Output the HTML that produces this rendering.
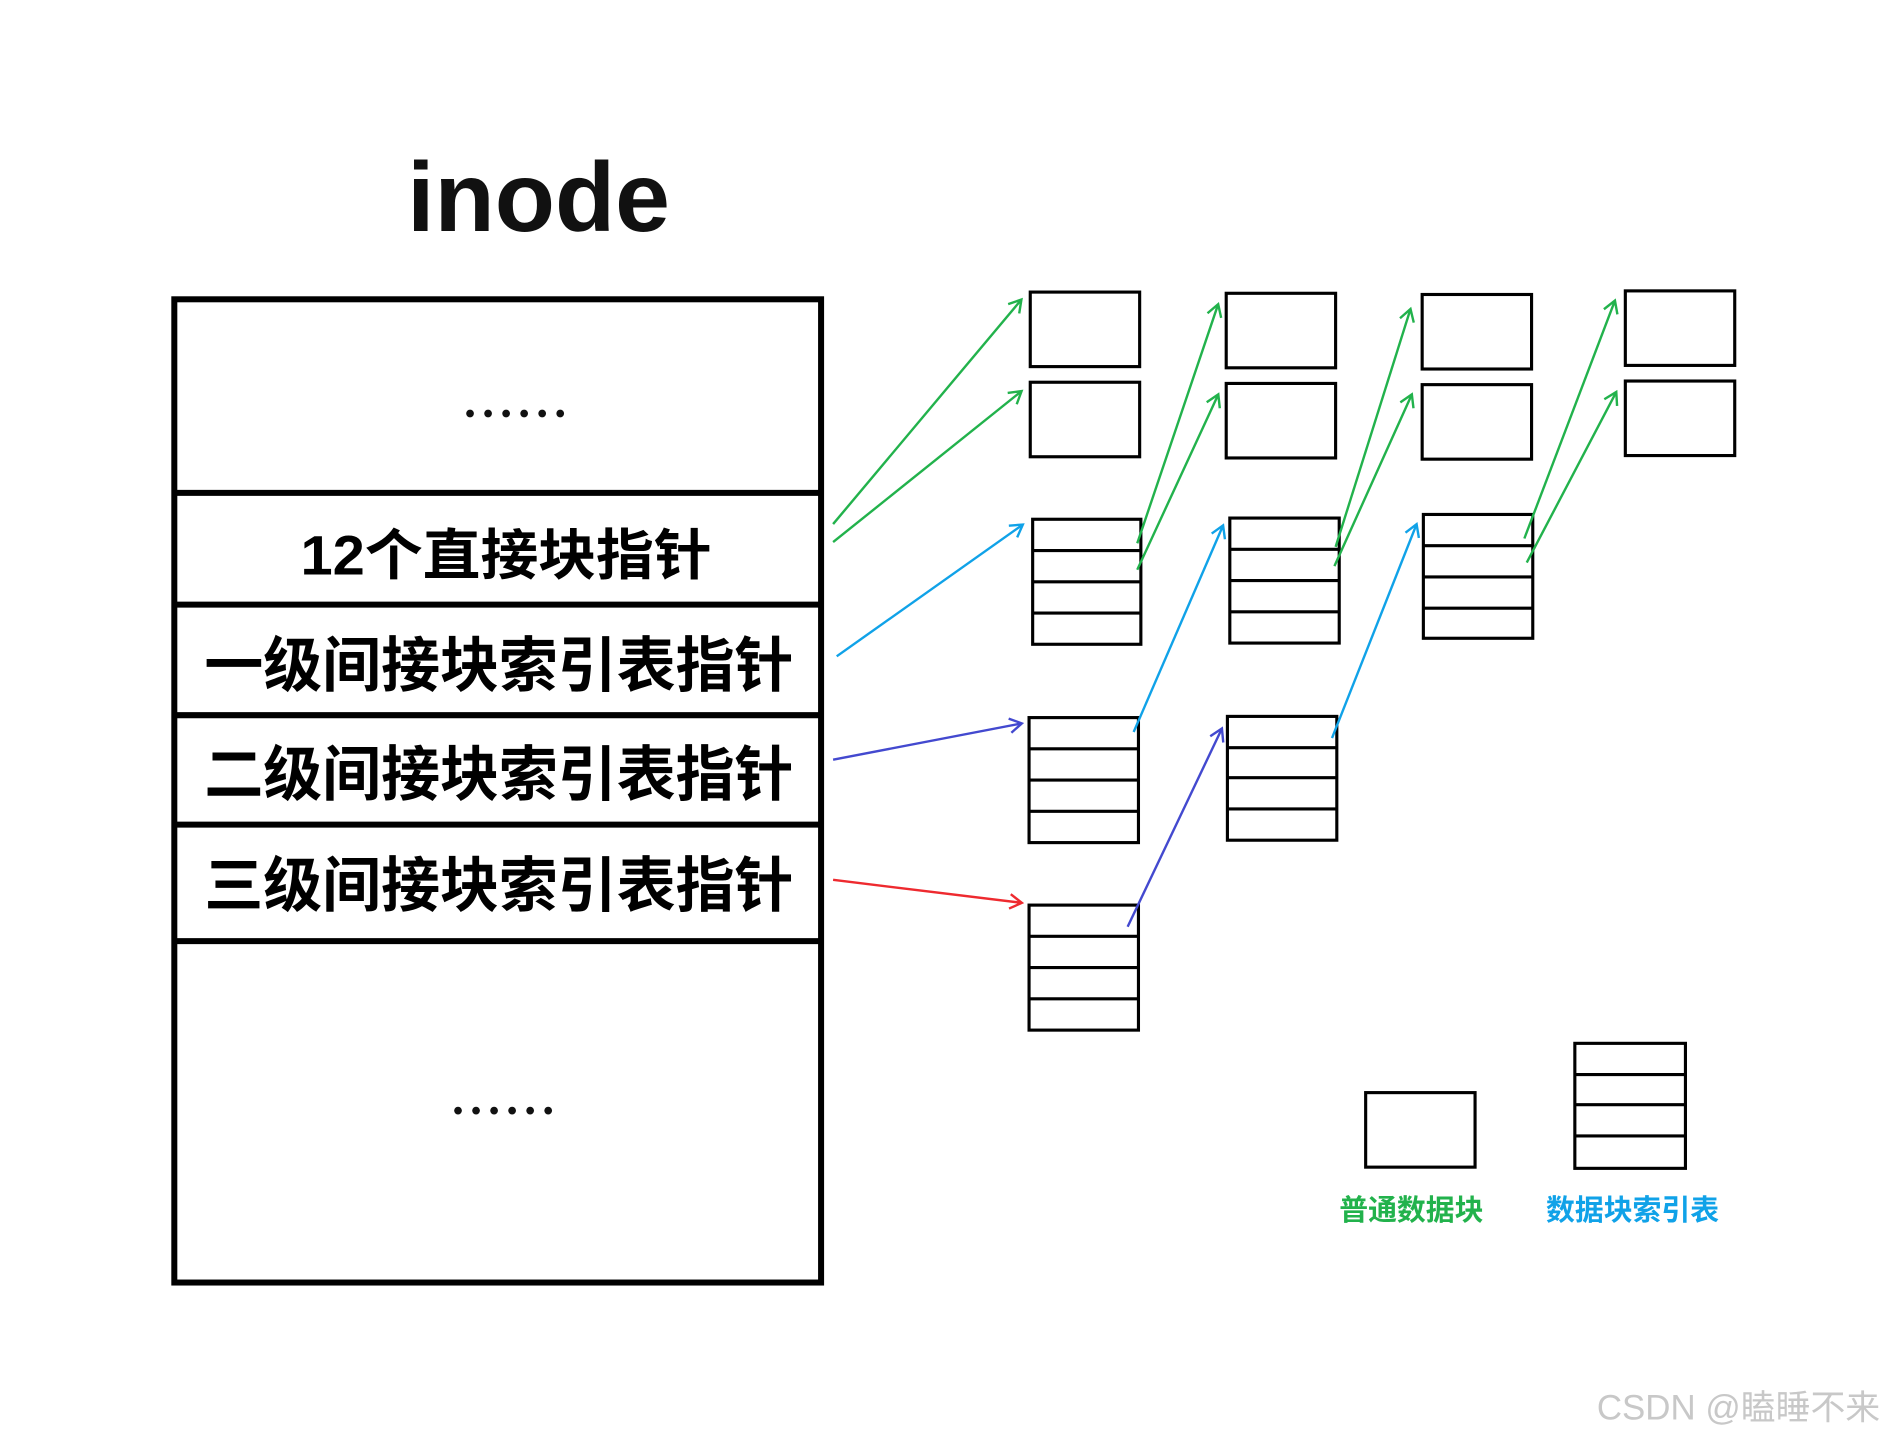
<!DOCTYPE html>
<html><head><meta charset="utf-8"><style>
html,body{margin:0;padding:0;background:#fff;}
svg{display:block;}
text{font-family:"Liberation Sans","Noto Sans CJK SC",sans-serif;}
</style></head><body>
<svg width="1885" height="1440" viewBox="0 0 1568 1198" preserveAspectRatio="none" xmlns="http://www.w3.org/2000/svg">
<defs>
<marker id="g" markerWidth="14" markerHeight="14" refX="10" refY="7" orient="auto" markerUnits="userSpaceOnUse"><path d="M1,1 L11,7 L1,13" fill="none" stroke="#22b24c" stroke-width="2"/></marker>
<marker id="b" markerWidth="14" markerHeight="14" refX="10" refY="7" orient="auto" markerUnits="userSpaceOnUse"><path d="M1,1 L11,7 L1,13" fill="none" stroke="#10a2e8" stroke-width="2"/></marker>
<marker id="p" markerWidth="14" markerHeight="14" refX="10" refY="7" orient="auto" markerUnits="userSpaceOnUse"><path d="M1,1 L11,7 L1,13" fill="none" stroke="#4349cf" stroke-width="2"/></marker>
<marker id="r" markerWidth="14" markerHeight="14" refX="10" refY="7" orient="auto" markerUnits="userSpaceOnUse"><path d="M1,1 L11,7 L1,13" fill="none" stroke="#ee2a2f" stroke-width="2"/></marker>
</defs>
<rect width="1568" height="1198" fill="#fff"/>
<text x="448" y="192" font-size="82" text-anchor="middle" fill="#111" font-weight="bold">inode</text>
<!-- main box -->
<rect x="145" y="249" width="538" height="818" fill="none" stroke="#000" stroke-width="5"/>
<g stroke="#000" stroke-width="5">
<line x1="145" y1="410" x2="683" y2="410"/>
<line x1="145" y1="503" x2="683" y2="503"/>
<line x1="145" y1="595" x2="683" y2="595"/>
<line x1="145" y1="686" x2="683" y2="686"/>
<line x1="145" y1="783" x2="683" y2="783"/>
</g>
<g fill="#111">
<circle cx="391" cy="344" r="3.2"/><circle cx="406" cy="344" r="3.2"/><circle cx="421" cy="344" r="3.2"/><circle cx="436" cy="344" r="3.2"/><circle cx="451" cy="344" r="3.2"/><circle cx="466" cy="344" r="3.2"/>
<circle cx="381" cy="924" r="3.2"/><circle cx="396" cy="924" r="3.2"/><circle cx="411" cy="924" r="3.2"/><circle cx="426" cy="924" r="3.2"/><circle cx="441" cy="924" r="3.2"/><circle cx="456" cy="924" r="3.2"/>
</g>
<g font-weight="bold" fill="#000">
<text x="250" y="478" font-size="46" textLength="342" lengthAdjust="spacingAndGlyphs">12个直接块指针</text>
<text x="170" y="571" font-size="50" textLength="490" lengthAdjust="spacingAndGlyphs">一级间接块索引表指针</text>
<text x="170" y="662" font-size="50" textLength="490" lengthAdjust="spacingAndGlyphs">二级间接块索引表指针</text>
<text x="170" y="754" font-size="50" textLength="490" lengthAdjust="spacingAndGlyphs">三级间接块索引表指针</text>
</g>
<!-- data blocks -->
<g fill="none" stroke="#000" stroke-width="2.6">
<rect x="857" y="243" width="91" height="62"/><rect x="857" y="318" width="91" height="62"/>
<rect x="1020" y="244" width="91" height="62"/><rect x="1020" y="319" width="91" height="62"/>
<rect x="1183" y="245" width="91" height="62"/><rect x="1183" y="320" width="91" height="62"/>
<rect x="1352" y="242" width="91" height="62"/><rect x="1352" y="317" width="91" height="62"/>
<rect x="1136" y="909" width="91" height="62"/>
</g>
<!-- index tables -->
<g fill="none" stroke="#000" stroke-width="2.6">
<rect x="859" y="432" width="90" height="104"/><path d="M859 458H949M859 484H949M859 510H949"/>
<rect x="1023" y="431" width="91" height="104"/><path d="M1023 457H1114M1023 483H1114M1023 509H1114"/>
<rect x="1184" y="428" width="91" height="103"/><path d="M1184 454H1275M1184 480H1275M1184 506H1275"/>
<rect x="856" y="597" width="91" height="104"/><path d="M856 623H947M856 649H947M856 675H947"/>
<rect x="1021" y="596" width="91" height="103"/><path d="M1021 622H1112M1021 647H1112M1021 673H1112"/>
<rect x="856" y="753" width="91" height="104"/><path d="M856 779H947M856 805H947M856 831H947"/>
<rect x="1310" y="868" width="92" height="104"/><path d="M1310 894H1402M1310 919H1402M1310 945H1402"/>
</g>
<!-- arrows -->
<g fill="none" stroke-width="2">
<g stroke="#22b24c">
<line x1="693" y1="436" x2="849" y2="250" marker-end="url(#g)"/>
<line x1="693" y1="451" x2="849" y2="326" marker-end="url(#g)"/>
<line x1="946" y1="452" x2="1013" y2="254" marker-end="url(#g)"/>
<line x1="946" y1="474" x2="1013" y2="329" marker-end="url(#g)"/>
<line x1="1111" y1="455" x2="1173" y2="258" marker-end="url(#g)"/>
<line x1="1110" y1="471" x2="1174" y2="329" marker-end="url(#g)"/>
<line x1="1268" y1="448" x2="1343" y2="251" marker-end="url(#g)"/>
<line x1="1270" y1="468" x2="1344" y2="327" marker-end="url(#g)"/>
</g>
<g stroke="#10a2e8">
<line x1="696" y1="546" x2="850" y2="437" marker-end="url(#b)"/>
<line x1="943" y1="609" x2="1017" y2="438" marker-end="url(#b)"/>
<line x1="1108" y1="614" x2="1178" y2="437" marker-end="url(#b)"/>
</g>
<g stroke="#4349cf">
<line x1="693" y1="632" x2="849" y2="602" marker-end="url(#p)"/>
<line x1="938" y1="771" x2="1016" y2="607" marker-end="url(#p)"/>
</g>
<line x1="693" y1="732" x2="849" y2="751" stroke="#ee2a2f" marker-end="url(#r)"/>
</g>
<text x="1174" y="1015" font-size="24" font-weight="bold" fill="#22b24c" text-anchor="middle">普通数据块</text>
<text x="1358" y="1015" font-size="24" font-weight="bold" fill="#10a2e8" text-anchor="middle">数据块索引表</text>
<text x="1564" y="1181" font-size="29" fill="#c8c8c8" text-anchor="end">CSDN @瞌睡不来</text>
</svg>
</body></html>
